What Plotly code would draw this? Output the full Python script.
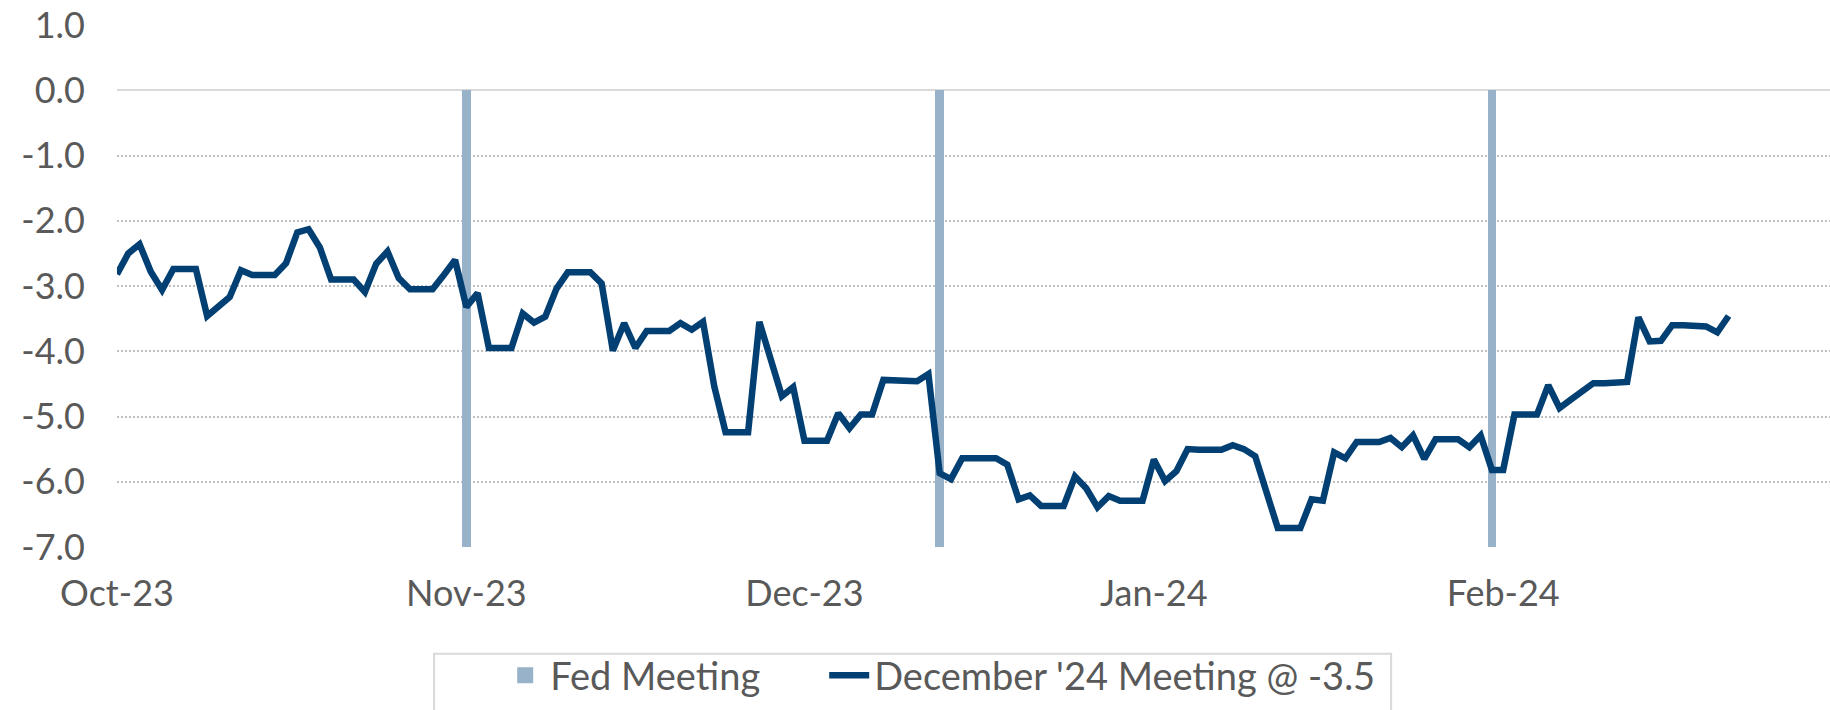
import pandas as pd
import plotly.graph_objects as go

# ---- data -------------------------------------------------------------
start_date = "2023-10-01"
dec24_values = [
    -2.82, -2.50, -2.36, -2.78, -3.06, -2.74, -2.74, -2.74, -3.46, -3.32,
    -3.17, -2.76, -2.83, -2.83, -2.83, -2.65, -2.18, -2.13, -2.41, -2.90,
    -2.90, -2.90, -3.09, -2.66, -2.47, -2.88, -3.05, -3.05, -3.05, -2.83,
    -2.60, -3.32, -3.11, -3.95, -3.95, -3.95, -3.42, -3.56, -3.47, -3.04,
    -2.79, -2.79, -2.79, -2.96, -3.99, -3.57, -3.95, -3.69, -3.69, -3.69,
    -3.57, -3.67, -3.55, -4.54, -5.24, -5.24, -5.24, -3.55, -4.11, -4.69,
    -4.55, -5.37, -5.37, -5.37, -4.95, -5.18, -4.97, -4.97, -4.44, -4.44,
    -4.44, -4.46, -4.35, -5.87, -5.96, -5.64, -5.64, -5.64, -5.64, -5.74,
    -6.27, -6.21, -6.37, -6.37, -6.37, -5.92, -6.10, -6.39, -6.22, -6.29,
    -6.29, -6.29, -5.66, -5.99, -5.84, -5.50, -5.51, -5.51, -5.51, -5.44,
    -5.50, -5.61, -6.16, -6.71, -6.71, -6.71, -6.27, -6.29, -5.55, -5.64,
    -5.39, -5.39, -5.39, -5.33, -5.47, -5.29, -5.65, -5.35, -5.35, -5.35,
    -5.47, -5.29, -5.82, -5.82, -4.97, -4.97, -4.97, -4.52, -4.87, -4.74,
    -4.61, -4.49, -4.49, -4.49, -4.47, -3.48, -3.85, -3.84, -3.60, -3.60,
    -3.60, -3.62, -3.71, -3.46,
]
dates = pd.date_range(start_date, periods=len(dec24_values), freq="D")

fed_meeting_dates = ["2023-11-01", "2023-12-13", "2024-01-31"]
fed_meeting_values = [-7.0, -7.0, -7.0]

x_tick_dates = ["2023-10-01", "2023-11-01", "2023-12-01", "2024-01-01", "2024-02-01"]
x_tick_labels = ["Oct-23", "Nov-23", "Dec-23", "Jan-24", "Feb-24"]
y_tick_vals = [-7, -6, -5, -4, -3, -2, -1, 0]
y_tick_labels = ["-7.0", "-6.0", "-5.0", "-4.0", "-3.0", "-2.0", "-1.0", "0.0"]
y_top_tick = [1]
y_top_label = ["1.0"]

# ---- style ------------------------------------------------------------
FONT = "Lato"
TXT = "#595959"
NAVY = "#023F73"
STEEL = "#98B2CA"
FS = 36
LFS = 38

fig = go.Figure()

fig.add_trace(go.Bar(
    x=fed_meeting_dates, y=fed_meeting_values,
    width=0.75 * 86400000, marker=dict(color=STEEL, line=dict(width=0)),
    showlegend=False, name="Fed Meeting",
))
# legend-only swatch for Fed Meeting
fig.add_trace(go.Scatter(
    x=[None], y=[None], mode="markers", name="Fed Meeting",
    marker=dict(symbol="square", size=24, color=STEEL),
    legendwidth=269,
))
fig.add_trace(go.Scatter(
    x=dates, y=dec24_values, mode="lines",
    name="December '24 Meeting @ -3.5",
    line=dict(color=NAVY, width=6.5),
))
fig.add_trace(go.Scatter(x=[None], y=[None], yaxis="y2", showlegend=False))

fig.update_layout(
    width=1830, height=710,
    margin=dict(l=117, r=0, t=25, b=163, autoexpand=False),
    paper_bgcolor="white", plot_bgcolor="white",
    font=dict(family=FONT, size=FS, color=TXT),
    bargap=0,
    xaxis=dict(
        type="date", range=["2023-10-01", "2024-03-01"],
        tickvals=x_tick_dates, ticktext=x_tick_labels,
        showgrid=False, zeroline=False, showline=False, automargin=False,
        ticks="", ticklabelstandoff=22,
        tickfont=dict(family=FONT, size=FS, color=TXT),
    ),
    yaxis=dict(
        range=[-7, 1], tickvals=y_tick_vals, ticktext=y_tick_labels,
        showgrid=True, gridcolor="#BFBFBF", gridwidth=2, griddash="2px,2px",
        zeroline=True, zerolinecolor="#D9D9D9", zerolinewidth=2,
        showline=False, ticks="", ticklabelstandoff=31, automargin=False,
        tickfont=dict(family=FONT, size=FS, color=TXT),
    ),
    yaxis2=dict(
        range=[-7, 1], overlaying="y", side="left", tickvals=y_top_tick,
        ticktext=y_top_label, showgrid=False, zeroline=False, showline=False,
        ticks="", ticklabelstandoff=31, automargin=False,
        tickfont=dict(family=FONT, size=FS, color=TXT),
    ),
    legend=dict(
        orientation="h", x=0.2237, xanchor="left", y=-0.186, yanchor="top",
        borderwidth=0, bgcolor="rgba(0,0,0,0)",
        font=dict(family=FONT, size=LFS, color=TXT),
        itemwidth=40,
    ),
    shapes=[dict(
        type="rect", xref="paper", yref="paper",
        x0=0.1851, x1=0.7438, y0=-0.2045, y1=-0.36,
        line=dict(color="#D9D9D9", width=2), fillcolor="rgba(0,0,0,0)",
        layer="below",
    )],
)

fig.write_html(
    "out.html",
    config={"displayModeBar": False},
    post_script="document.body.style.margin='0';document.body.style.overflow='hidden';",
)
